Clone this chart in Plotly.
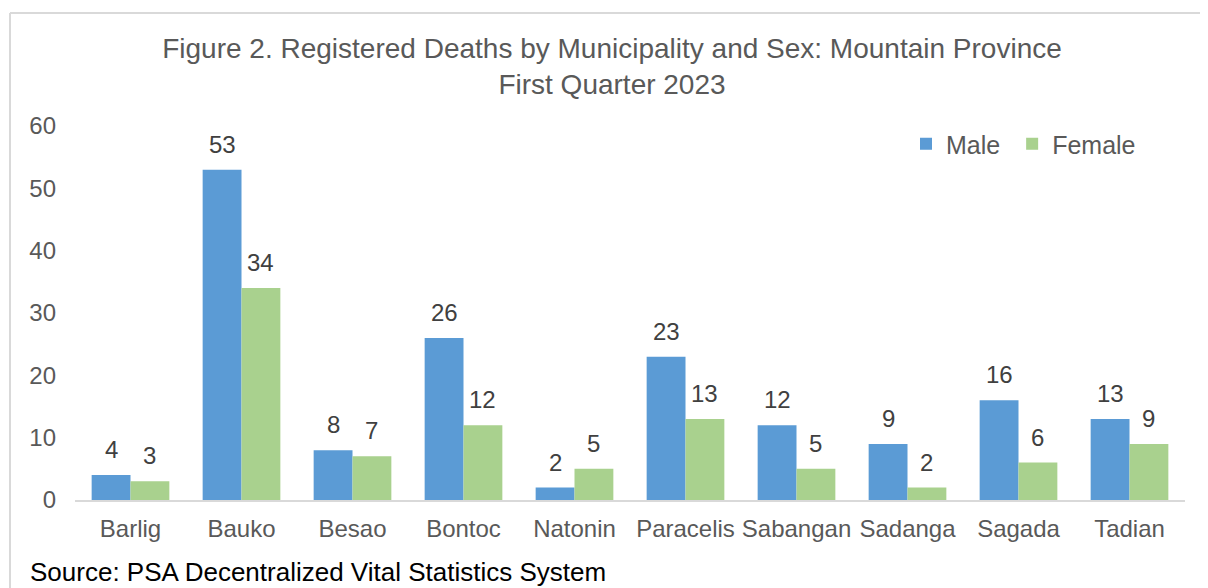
import plotly.graph_objects as go

categories = ["Barlig", "Bauko", "Besao", "Bontoc", "Natonin", "Paracelis",
              "Sabangan", "Sadanga", "Sagada", "Tadian"]
male = [4, 53, 8, 26, 2, 23, 12, 9, 16, 13]
female = [3, 34, 7, 12, 5, 13, 5, 2, 6, 9]
y_ticks = [0, 10, 20, 30, 40, 50, 60]

FONT = "Liberation Sans, Arial, sans-serif"
BLUE = "#5B9BD5"
GREEN = "#A9D18E"
GRAY_TXT = "#595959"
LBL_TXT = "#404040"

# figure sits at (8, 8) in the page because of the default body margin
W, H = 1200, 580
L, R, T, B = 67, 23, 118, 88
pw, ph = W - L - R, H - T - B


def px_x(px):
    return (px - L) / pw


def px_y(py):
    return (H - B - py) / ph


fig = go.Figure()
fig.add_trace(go.Bar(name="Male\u00a0", x=categories, y=male, marker_color=BLUE,
                     marker_line_width=0))
fig.add_trace(go.Bar(name="Female", x=categories, y=female, marker_color=GREEN,
                     marker_line_width=0))

bargap = 0.3
bar_px = pw / len(categories) * (1 - bargap) / 2
annotations = []
for series, sign in ((male, -1), (female, 1)):
    for c, v in zip(categories, series):
        annotations.append(dict(x=c, y=v, xref="x", yref="y", text=str(v),
                                showarrow=False, xshift=sign * bar_px / 2,
                                yanchor="bottom", yshift=10,
                                font=dict(family=FONT, size=24, color=LBL_TXT)))

annotations.append(dict(x=px_x(20), y=px_y(547), xref="paper", yref="paper",
                        xanchor="left", yanchor="top", showarrow=False,
                        text="Source: PSA Decentralized Vital Statistics System",
                        font=dict(family=FONT, size=26, color="#000000")))

shapes = [
    dict(type="line", xref="paper", yref="paper", x0=px_x(2), x1=px_x(1210),
         y0=px_y(5), y1=px_y(5), line=dict(color="#D9D9D9", width=2)),
    dict(type="line", xref="paper", yref="paper", x0=px_x(2), x1=px_x(2),
         y0=px_y(5), y1=px_y(600), line=dict(color="#D9D9D9", width=2)),
]

fig.update_layout(
    width=W, height=H,
    margin=dict(l=L, r=R, t=T, b=B, autoexpand=False),
    paper_bgcolor="white", plot_bgcolor="white",
    barmode="group", bargap=bargap, bargroupgap=0,
    font=dict(family=FONT, size=24, color=GRAY_TXT),
    title=dict(text="Figure 2. Registered Deaths by Municipality and Sex: Mountain Province<br>First Quarter 2023",
               x=604 / W, xanchor="center", xref="container",
               y=1 - 50 / H, yanchor="top", yref="container",
               font=dict(family=FONT, size=28, color=GRAY_TXT)),
    legend=dict(orientation="h", x=px_x(898), y=px_y(113), xanchor="left",
                yanchor="top", font=dict(family=FONT, size=25, color=GRAY_TXT),
                bgcolor="rgba(0,0,0,0)", itemwidth=30, traceorder="normal"),
    xaxis=dict(showgrid=False, showline=True, linecolor="#D9D9D9", linewidth=2,
               ticks="", tickfont=dict(family=FONT, size=24, color=GRAY_TXT),
               ticklabelstandoff=6, fixedrange=True),
    yaxis=dict(range=[0, 60], tickvals=y_ticks, showgrid=False, zeroline=False,
               showline=False, ticks="",
               tickfont=dict(family=FONT, size=24, color=GRAY_TXT),
               ticklabelstandoff=18, fixedrange=True),
    annotations=annotations,
    shapes=shapes,
    showlegend=True,
)

fig.write_html("out.html")
